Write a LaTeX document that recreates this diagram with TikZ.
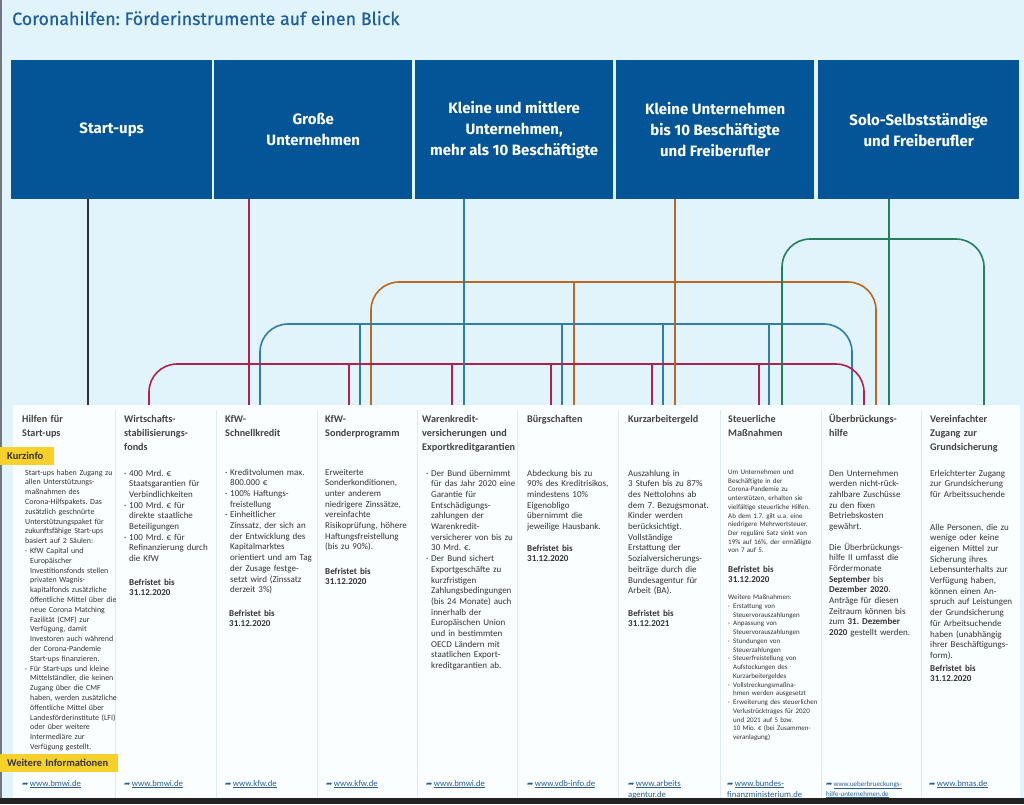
\documentclass[tikz,border=0pt]{standalone}
\usepackage{fontspec}
\setmainfont{Carlito}
\newfontfamily\headfont{Fira Sans}
\newfontfamily\titlefont{Fira Sans}[FakeBold=0.6]
\newfontfamily\symfont{DejaVu Sans}
\definecolor{bgblue}{HTML}{E2F4FB}
\definecolor{hblue}{HTML}{045597}
\definecolor{ttl}{HTML}{1E5E9C}
\definecolor{txt}{HTML}{333333}
\definecolor{ttxt}{HTML}{424242}
\definecolor{panel}{HTML}{FBFEFF}
\definecolor{sepc}{HTML}{DDEAF0}
\definecolor{tagyellow}{HTML}{F6D12C}
\definecolor{lnk}{HTML}{2B5D96}
\definecolor{lblack}{HTML}{2E3236}
\definecolor{lcrim}{HTML}{B3204E}
\definecolor{lblue}{HTML}{2F7DAA}
\definecolor{lorange}{HTML}{B8681F}
\definecolor{lgreen}{HTML}{24805A}
\definecolor{darkband}{HTML}{222222}
\definecolor{edgegray}{HTML}{6E7780}
\newcommand{\bu}{\makebox[5pt][l]{·}}
\newcommand{\ii}{\hspace*{5pt}}
\newcommand{\lk}[1]{{\symfont\fontsize{7.5}{7.5}\selectfont ➦}\,\underline{#1}}
\usetikzlibrary{calc}
\begin{document}
\frenchspacing
\begin{tikzpicture}[x=1pt,y=-1pt,
 hbox/.style={fill=hblue,text=white,anchor=north west,inner sep=0pt,align=center,minimum height=139pt,font=\headfont\bfseries\fontsize{15}{21}\selectfont},
 ctitle/.style={anchor=base west,inner sep=0pt,text width=130pt,align=left,text=ttxt,font=\bfseries\fontsize{10.2}{14}\selectfont},
 body/.style={anchor=base west,inner sep=0pt,text width=140pt,align=left,text=txt,font=\fontsize{9}{10.7}\selectfont},
 smallbody/.style={body,font=\fontsize{7.9}{9.8}\selectfont},
 tinybody/.style={body,font=\fontsize{7}{8.7}\selectfont},
 due/.style={body,font=\bfseries\fontsize{9}{10.7}\selectfont},
 tag/.style={fill=tagyellow,anchor=north west,inner ysep=0pt,inner xsep=7pt,minimum height=18pt,align=left,text=txt,font=\bfseries\fontsize{10.5}{12}\selectfont},
 link/.style={anchor=base west,inner sep=0pt,text width=120pt,align=left,text=lnk,font=\fontsize{8.7}{11}\selectfont},
 conn/.style={line width=1.6pt},
 bus/.style={conn,rounded corners=28pt},
]
\useasboundingbox (0,0) rectangle (1024,804);
\fill[bgblue] (0,0) rectangle (1024,798);
\fill[edgegray] (0,0) rectangle (2,798);

\node[anchor=base west,inner sep=0pt,text=ttl,font=\titlefont\fontsize{17.8}{20}\selectfont] (title) at (12,25) {Coronahilfen: Förderinstrumente auf einen Blick};

\node[hbox,minimum width=201pt] (h1) at (11,60) {Start-ups};
\node[hbox,minimum width=198pt] (h2) at (214,60) {Große\\Unternehmen};
\node[hbox,minimum width=198pt] (h3) at (415,60) {Kleine und mittlere\\Unternehmen,\\mehr als 10 Beschäftigte};
\node[hbox,minimum width=198pt] (h4) at (616,60) {Kleine Unternehmen\\bis 10 Beschäftigte\\und Freiberufler};
\node[hbox,minimum width=201pt] (h5) at (818,60) {Solo-Selbstständige\\und Freiberufler};

% connector end points at the tops of the columns
\coordinate (k1) at (88,405);
\coordinate (r2) at (149,405); \coordinate (r3) at (249,405); \coordinate (r4) at (349,405);
\coordinate (r5) at (452,405); \coordinate (r6) at (551,405); \coordinate (r7) at (652,405);
\coordinate (r8) at (759,405); \coordinate (r9) at (864,405);
\coordinate (b3) at (260,405); \coordinate (b4) at (360,405); \coordinate (b5) at (464,405);
\coordinate (b6) at (562,405); \coordinate (b7) at (663,405); \coordinate (b8) at (769,405);
\coordinate (b9) at (852,405);
\coordinate (o4) at (371,405); \coordinate (o6) at (574,405); \coordinate (o7) at (675,405);
\coordinate (o9) at (876,405);
\coordinate (g8) at (782,405); \coordinate (g9) at (889,405); \coordinate (g10) at (984,405);
\coordinate (rbus) at (0,364); \coordinate (bbus) at (0,324);
\coordinate (obus) at (0,282); \coordinate (gbus) at (0,239);

% orange
\draw[bus,lorange] (o4) |- (obus -| o9) -- (o9);
\draw[conn,lorange] (o6) -- (o6 |- obus);
% blue
\draw[bus,lblue] (b3) |- (bbus -| b9) -- (b9);
\foreach \p in {b4,b6,b7,b8} \draw[conn,lblue] (\p) -- (\p |- bbus);
% crimson
\draw[bus,lcrim] (r2) |- (rbus -| r9) -- (r9);
\foreach \p in {r4,r5,r6,r7,r8} \draw[conn,lcrim] (\p) -- (\p |- rbus);
% green
\draw[bus,lgreen] (g8) |- (gbus -| g10) -- (g10);
% main lines from the header boxes
\draw[conn,lblack] (k1 |- h1.south) -- (k1);
\draw[conn,lcrim] (r3 |- h2.south) -- (r3);
\draw[conn,lblue] (b5 |- h3.south) -- (b5);
\draw[conn,lorange,line width=2.2pt] (o7 |- h4.south) -- (o7);
\draw[conn,lgreen] (g9 |- h5.south) -- (g9);

% panel
\fill[panel] (13,405) rectangle (1020,798);
\foreach \x in {115,216,317,417,517,618,720,821,921} \draw[sepc,line width=0.8pt] (\x,410) -- (\x,798);

% column 1
\node[ctitle] (c1) at (22,422.5) {Hilfen für\\Start-ups};
\node[tag,text width=40pt] (kurz) at (0,447) {Kurzinfo};
\node[smallbody] (c1b) at (25,475) {Start-ups haben Zugang zu\\allen Unterstützungs-\\maßnahmen des\\Corona-Hilfspakets. Das\\zusätzlich geschnürte\\Unterstützungspaket für\\zukunftsfähige Start-ups\\basiert auf 2 Säulen:\\\bu KfW Capital und\\\ii Europäischer\\\ii Investitionsfonds stellen\\\ii privaten Wagnis-\\\ii kapitalfonds zusätzliche\\\ii öffentliche Mittel über die\\\ii neue Corona Matching\\\ii Fazilität (CMF) zur\\\ii Verfügung, damit\\\ii Investoren auch während\\\ii der Corona-Pandemie\\\ii Start-ups finanzieren.\\\bu Für Start-ups und kleine\\\ii Mittelständler, die keinen\\\ii Zugang über die CMF\\\ii haben, werden zusätzliche\\\ii öffentliche Mittel über\\\ii Landesförderinstitute (LFI)\\\ii oder über weitere\\\ii Intermediäre zur\\\ii Verfügung gestellt.};
\node[tag,text width=104pt] (weiter) at (0,754) {Weitere Informationen};

% column 2
\node[ctitle] (c2) at (124,422.5) {Wirtschafts-\\stabilisierungs-\\fonds};
\node[body] (c2b) at (124,476) {\bu 400 Mrd. €\\\ii Staatsgarantien für\\\ii Verbindlichkeiten\\\bu 100 Mrd. € für\\\ii direkte staatliche\\\ii Beteiligungen\\\bu 100 Mrd. € für\\\ii Refinanzierung durch\\\ii die KfW};
\node[due] (c2d) at (129,585) {Befristet bis\\31.12.2020};

% column 3
\node[ctitle] (c3) at (225,422.5) {KfW-\\Schnellkredit};
\node[body] (c3b) at (225,475) {\bu Kreditvolumen max.\\\ii 800.000 €\\\bu 100\% Haftungs-\\\ii freistellung\\\bu Einheitlicher\\\ii Zinssatz, der sich an\\\ii der Entwicklung des\\\ii Kapitalmarktes\\\ii orientiert und am Tag\\\ii der Zusage festge-\\\ii setzt wird (Zinssatz\\\ii derzeit 3\%)};
\node[due] (c3d) at (229,616) {Befristet bis\\31.12.2020};

% column 4
\node[ctitle] (c4) at (325,422.5) {KfW-\\Sonderprogramm};
\node[body] (c4b) at (325,475) {Erweiterte\\Sonderkonditionen,\\unter anderem\\niedrigere Zinssätze,\\vereinfachte\\Risikoprüfung, höhere\\Haftungsfreistellung\\(bis zu 90\%).};
\node[due] (c4d) at (325,574) {Befristet bis\\31.12.2020};

% column 5
\node[ctitle] (c5) at (422,422.5) {Warenkredit-\\versicherungen und\\Exportkreditgarantien};
\node[body] (c5b) at (426,476) {\bu Der Bund übernimmt\\\ii für das Jahr 2020 eine\\\ii Garantie für\\\ii Entschädigungs-\\\ii zahlungen der\\\ii Warenkredit-\\\ii versicherer von bis zu\\\ii 30 Mrd. €.\\\bu Der Bund sichert\\\ii Exportgeschäfte zu\\\ii kurzfristigen\\\ii Zahlungsbedingungen\\\ii (bis 24 Monate) auch\\\ii innerhalb der\\\ii Europäischen Union\\\ii und in bestimmten\\\ii OECD Ländern mit\\\ii staatlichen Export-\\\ii kreditgarantien ab.};

% column 6
\node[ctitle] (c6) at (527,422.5) {Bürgschaften};
\node[body] (c6b) at (527,476) {Abdeckung bis zu\\90\% des Kreditrisikos,\\mindestens 10\%\\Eigenobligo\\übernimmt die\\jeweilige Hausbank.};
\node[due] (c6d) at (527,551) {Befristet bis\\31.12.2020};

% column 7
\node[ctitle] (c7) at (628,422.5) {Kurzarbeitergeld};
\node[body] (c7b) at (628,476) {Auszahlung in\\3 Stufen bis zu 87\%\\des Nettolohns ab\\dem 7. Bezugsmonat.\\Kinder werden\\berücksichtigt.\\Vollständige\\Erstattung der\\Sozialversicherungs-\\beiträge durch die\\Bundesagentur für\\Arbeit (BA).};
\node[due] (c7d) at (628,616) {Befristet bis\\31.12.2021};

% column 8
\node[ctitle] (c8) at (728,422.5) {Steuerliche\\Maßnahmen};
\node[tinybody] (c8b) at (728,474.5) {Um Unternehmen und\\Beschäftigte in der\\Corona-Pandemie zu\\unterstützen, erhalten sie\\vielfältige steuerliche Hilfen.\\Ab dem 1.7. gilt u.a. eine\\niedrigere Mehrwertsteuer.\\Der reguläre Satz sinkt von\\19\% auf 16\%, der ermäßigte\\von 7 auf 5.};
\node[due] (c8d) at (728,572) {Befristet bis\\31.12.2020};
\node[tinybody,font=\fontsize{7}{8.75}\selectfont] (c8m) at (728,599.5) {Weitere Maßnahmen:\\\bu Erstattung von\\\ii Steuervorauszahlungen\\\bu Anpassung von\\\ii Steuervorauszahlungen\\\bu Stundungen von\\\ii Steuerzahlungen\\\bu Steuerfreistellung von\\\ii Aufstockungen des\\\ii Kurzarbeitergeldes\\\bu Vollstreckungsmaßna-\\\ii hmen werden ausgesetzt\\\bu Erweiterung des steuerlichen\\\ii Verlustrücktrages für 2020\\\ii und 2021 auf 5 bzw.\\\ii 10 Mio. € (bei Zusammen-\\\ii veranlagung)};

% column 9
\node[ctitle] (c9) at (829,422.5) {Überbrückungs-\\hilfe};
\node[body] (c9b) at (829,476) {Den Unternehmen\\werden nicht-rück-\\zahlbare Zuschüsse\\zu den fixen\\Betriebskosten\\gewährt.};
\node[body] (c9c) at (829,550) {Die Überbrückungs-\\hilfe II umfasst die\\Fördermonate\\\textbf{September} bis\\\textbf{Dezember 2020}.\\Anträge für diesen\\Zeitraum können bis\\zum \textbf{31. Dezember}\\\textbf{2020} gestellt werden.};

% column 10
\node[ctitle] (c10) at (930,422.5) {Vereinfachter\\Zugang zur\\Grundsicherung};
\node[body] (c10b) at (930,476) {Erleichterter Zugang\\zur Grundsicherung\\für Arbeitssuchende};
\node[body] (c10c) at (930,530) {Alle Personen, die zu\\wenige oder keine\\eigenen Mittel zur\\Sicherung ihres\\Lebensunterhalts zur\\Verfügung haben,\\können einen An-\\spruch auf Leistungen\\der Grundsicherung\\für Arbeitsuchende\\haben (unabhängig\\ihrer Beschäftigungs-\\form).};
\node[due] (c10d) at (930,671) {Befristet bis\\31.12.2020};

% links
\node[link] (l1) at (22,786) {\lk{www.bmwi.de}};
\node[link] (l2) at (124,786) {\lk{www.bmwi.de}};
\node[link] (l3) at (225,786) {\lk{www.kfw.de}};
\node[link] (l4) at (326,786) {\lk{www.kfw.de}};
\node[link] (l5) at (426,786) {\lk{www.bmwi.de}};
\node[link] (l6) at (527,786) {\lk{www.vdb-info.de}};
\node[link] (l7) at (628,786) {\lk{www.arbeits}\\\underline{agentur.de}};
\node[link] (l8) at (727,786) {\lk{www.bundes-}\\\underline{finanzministerium.de}};
\node[link,font=\fontsize{7}{10}\selectfont] (l9) at (826,786) {\lk{www.ueberbrueckungs-}\\\underline{hilfe-unternehmen.de}};
\node[link] (l10) at (929,786) {\lk{www.bmas.de}};

\fill[darkband] (0,798) rectangle (1024,804);
\end{tikzpicture}
\end{document}
